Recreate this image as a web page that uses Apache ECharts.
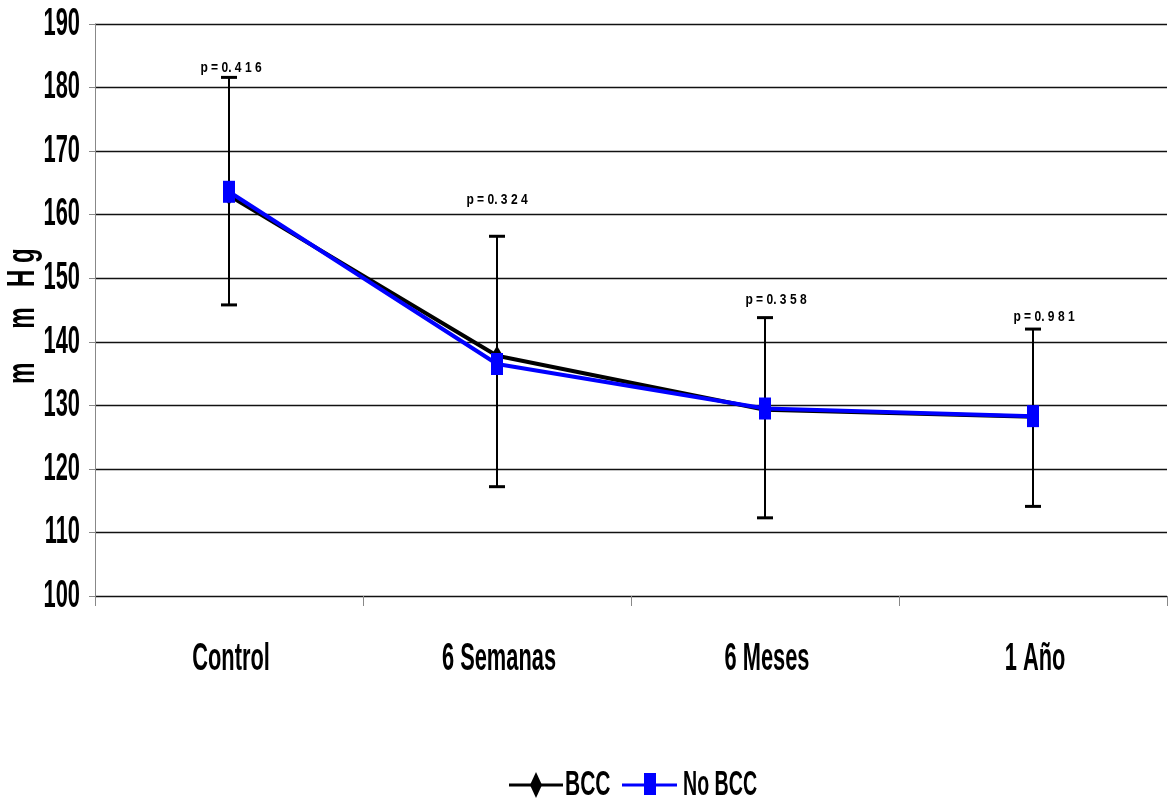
<!DOCTYPE html>
<html>
<head>
<meta charset="utf-8">
<script src="https://cdn.jsdelivr.net/npm/echarts@6/dist/echarts.min.js"></script>
<style>
  html, body { margin: 0; padding: 0; background: #fff; }
  #chart { width: 1172px; height: 807px; }
</style>
</head>
<body>
<div id="chart"></div>
<script>
// data
var categories = ["Control", "6 Semanas", "6 Meses", "1 Año"];
var bcc = [163.0, 137.8, 129.3, 128.2];
var noBcc = [163.6, 136.5, 129.5, 128.3];
var errLow = [145.8, 117.2, 112.3, 114.1];
var errHigh = [181.6, 156.6, 143.8, 142.0];
var pTexts = ["p = 0. 4 1 6", "p = 0. 3 2 4", "p = 0. 3 5 8", "p = 0. 9 8 1"];
var pLabelY = [183.1, 162.3, 146.6, 143.9];
var yTicks = [100, 110, 120, 130, 140, 150, 160, 170, 180, 190];

// small horizontal nudges of the p labels, as in the original
var pNudge = [2, 0, 11, 11];

var font = "'Liberation Sans', Arial, sans-serif";
var squeeze = 0.56; // the original uses a narrow bold face
var diamond = "path://M5,0 L10,10 L5,20 L0,10 Z";

function narrowText(x, y, text, size, align, sx) {
  return {
    type: "text",
    x: x,
    y: y,
    scaleX: sx || squeeze,
    silent: true,
    style: {
      text: text,
      x: 0,
      y: 0,
      fill: "#000",
      fontFamily: font,
      fontWeight: "bold",
      fontSize: size,
      align: align || "center",
      verticalAlign: "middle"
    }
  };
}

var chart = echarts.init(document.getElementById("chart"));

var option = {
  animation: false,
  grid: { left: 95, right: 5, top: 24, bottom: 211 },
  xAxis: {
    type: "category",
    data: categories,
    boundaryGap: true,
    axisLine: { show: false },
    axisTick: { show: true, length: 10, lineStyle: { color: "#888", width: 1 } },
    axisLabel: { show: false },
    splitLine: { show: false }
  },
  yAxis: {
    type: "value",
    min: 100,
    max: 190,
    interval: 10,
    axisLine: { show: true, lineStyle: { color: "#888", width: 1 } },
    axisTick: { show: true, length: 6, lineStyle: { color: "#888" } },
    axisLabel: { show: false },
    splitLine: { show: true, lineStyle: { color: "#111", width: 1.3 } }
  },
  graphic: [
    {
      type: "text",
      x: 23,
      y: 316,
      rotation: Math.PI / 2,
      scaleX: 1.1,
      scaleY: 1.75,
      style: {
        text: "m     m   H g",
        fill: "#000",
        fontFamily: font,
        fontWeight: "bold",
        fontSize: 22,
        align: "center",
        verticalAlign: "middle"
      }
    },
    // legend
    { type: "line", shape: { x1: 509, y1: 785, x2: 563, y2: 785 }, style: { stroke: "#000", lineWidth: 3 } },
    { type: "polygon", shape: { points: [[536, 772], [542, 785], [536, 798], [530, 785]] }, style: { fill: "#000" } },
    narrowText(565, 785, "BCC", 35, "left", 0.6),
    { type: "line", shape: { x1: 622, y1: 785, x2: 677, y2: 785 }, style: { stroke: "#0000ff", lineWidth: 3 } },
    { type: "rect", shape: { x: 644, y: 773, width: 12, height: 22 }, style: { fill: "#0000ff" } },
    narrowText(683, 785, "No BCC", 35, "left", 0.56)
  ],
  series: [
    {
      name: "yLabels",
      type: "custom",
      silent: true,
      clip: false,
      data: yTicks.map(function (v) { return [0, v]; }),
      renderItem: function (params, api) {
        var p = api.coord([0, api.value(1)]);
        return narrowText(params.coordSys.x - 15, p[1], String(api.value(1)), 39, "right");
      }
    },
    {
      name: "xLabels",
      type: "custom",
      silent: true,
      clip: false,
      data: categories.map(function (c, i) { return [i, 100]; }),
      renderItem: function (params, api) {
        var p = api.coord([api.value(0), 100]);
        return narrowText(p[0] + 2, p[1] + 63, categories[params.dataIndex], 39, "center");
      }
    },
    {
      name: "errors",
      type: "custom",
      z: 1,
      data: categories.map(function (c, i) { return [i, errLow[i], errHigh[i]]; }),
      renderItem: function (params, api) {
        var top = api.coord([api.value(0), api.value(2)]);
        var bot = api.coord([api.value(0), api.value(1)]);
        var w = 8;
        return {
          type: "group",
          children: [
            { type: "line", shape: { x1: top[0], y1: top[1], x2: bot[0], y2: bot[1] },
              style: { stroke: "#000", lineWidth: 2 } },
            { type: "line", shape: { x1: top[0] - w, y1: top[1], x2: top[0] + w, y2: top[1] },
              style: { stroke: "#000", lineWidth: 3 } },
            { type: "line", shape: { x1: bot[0] - w, y1: bot[1], x2: bot[0] + w, y2: bot[1] },
              style: { stroke: "#000", lineWidth: 3 } }
          ]
        };
      }
    },
    {
      name: "pvalues",
      type: "custom",
      silent: true,
      clip: false,
      z: 5,
      data: categories.map(function (c, i) { return [i, pLabelY[i]]; }),
      renderItem: function (params, api) {
        var p = api.coord([api.value(0), api.value(1)]);
        return narrowText(p[0] + pNudge[params.dataIndex], p[1], pTexts[params.dataIndex], 14, "center", 0.86);
      }
    },
    {
      name: "BCC",
      type: "line",
      z: 3,
      data: bcc,
      symbol: diamond,
      symbolSize: [12, 20],
      lineStyle: { color: "#000", width: 4 },
      itemStyle: { color: "#000" }
    },
    {
      name: "No BCC",
      type: "line",
      z: 4,
      data: noBcc,
      symbol: "rect",
      symbolSize: [12, 22],
      lineStyle: { color: "#0000ff", width: 4 },
      itemStyle: { color: "#0000ff" }
    }
  ]
};

chart.setOption(option);
</script>
</body>
</html>
